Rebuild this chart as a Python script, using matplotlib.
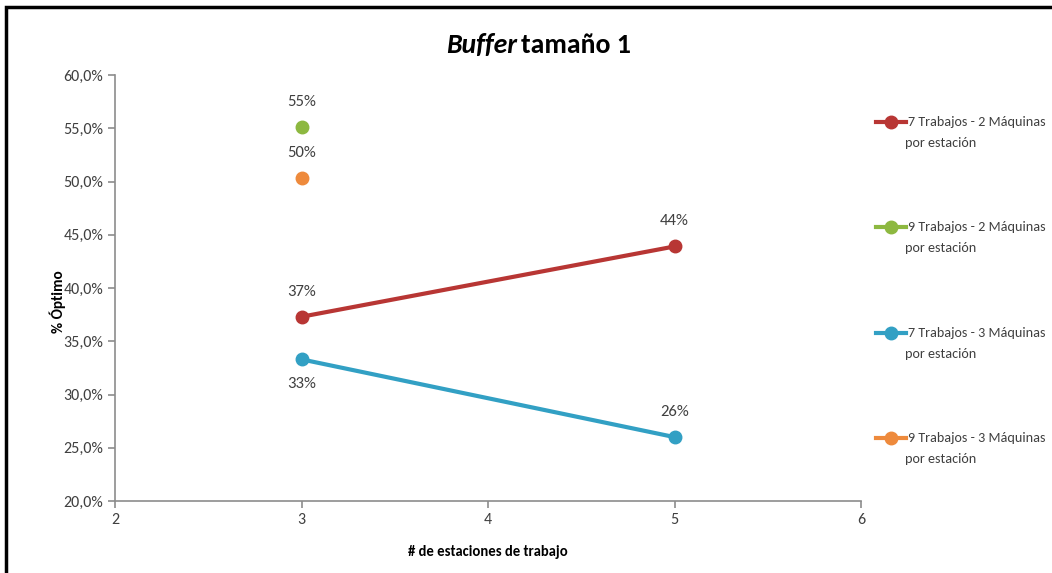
import matplotlib
matplotlib.use("Agg")
import matplotlib.pyplot as plt
from matplotlib.patches import Rectangle
from matplotlib.lines import Line2D
from matplotlib.ticker import FuncFormatter

plt.rcParams['font.family'] = ['Carlito', 'DejaVu Sans']

# data
estaciones = [3, 5]
red_vals = [37.3, 43.9]      # 7 Trabajos - 2 Maquinas
green_vals = [55.1]          # 9 Trabajos - 2 Maquinas
blue_vals = [33.3, 26.0]     # 7 Trabajos - 3 Maquinas
orange_vals = [50.3]         # 9 Trabajos - 3 Maquinas
red_labels = ["37%", "44%"]
green_labels = ["55%"]
blue_labels = ["33%", "26%"]
orange_labels = ["50%"]
series_names = ["7 Trabajos - 2 Máquinas\npor estación",
                "9 Trabajos - 2 Máquinas\npor estación",
                "7 Trabajos - 3 Máquinas\npor estación",
                "9 Trabajos - 3 Máquinas\npor estación"]

c_red = "#B83634"
c_green = "#8DB840"
c_blue = "#32A0C4"
c_orange = "#EE8A3C"
colors = [c_red, c_green, c_blue, c_orange]
txt = "#404040"

W, H = 1052, 573
fig = plt.figure(figsize=(W / 100, H / 100), dpi=100)
ax = fig.add_axes([115 / W, 1 - 501 / H, 746 / W, 426 / H])

ax.plot(estaciones, red_vals, color=c_red, lw=3, marker='o', ms=9)
ax.plot(estaciones[:1], green_vals, color=c_green, lw=3, marker='o', ms=9)
ax.plot(estaciones, blue_vals, color=c_blue, lw=3, marker='o', ms=9)
ax.plot(estaciones[:1], orange_vals, color=c_orange, lw=3, marker='o', ms=9)

def put_labels(xs, ys, labs, below=None):
    for i, (x, y, s) in enumerate(zip(xs, ys, labs)):
        dy = -25 if below == i else 25
        ax.annotate(s, (x, y), xytext=(0, dy), textcoords='offset pixels',
                    ha='center', va='center', fontsize=12, color=txt)

put_labels(estaciones, red_vals, red_labels)
put_labels(estaciones, green_vals, green_labels)
put_labels(estaciones, blue_vals, blue_labels, below=0)
put_labels(estaciones, orange_vals, orange_labels)

ax.set_xlim(2, 6)
ax.set_ylim(20, 60)
ax.set_xticks([2, 3, 4, 5, 6])
ax.set_yticks([20, 25, 30, 35, 40, 45, 50, 55, 60])
ax.yaxis.set_major_formatter(FuncFormatter(lambda v, p: f"{v:.1f}%".replace('.', ',')))
for s in ['top', 'right']:
    ax.spines[s].set_visible(False)
for s in ['left', 'bottom']:
    ax.spines[s].set_color('#8C8C8C')
    ax.spines[s].set_linewidth(1.2)
ax.tick_params(colors='#8C8C8C', labelcolor=txt, labelsize=11.5, length=5, width=1.2)

fig.text(58 / W, 1 - 302 / H, "% Óptimo", fontsize=11, fontweight='bold', color='black',
         rotation=90, ha='center', va='center')
fig.text(488 / W, 1 - 552 / H, "# de estaciones de trabajo", fontsize=10.5, fontweight='bold',
         color='black', ha='center', va='center')

fig.text(517 / W, 1 - 45 / H, "Buffer", style='italic', fontweight='bold', fontsize=20,
         ha='right', va='center', color='black')
fig.text(521 / W, 1 - 45 / H, "tamaño 1", fontweight='bold', fontsize=20,
         ha='left', va='center', color='black')

# legend drawn by hand: marker on first text line, second line below
for i, (name, col) in enumerate(zip(series_names, colors)):
    yy = 1 - (122 + i * 105.3) / H
    fig.add_artist(Line2D([876 / W, 906 / W], [yy, yy], color=col, lw=3,
                          transform=fig.transFigure))
    fig.add_artist(Line2D([891 / W], [yy], color=col, marker='o', ms=9,
                          transform=fig.transFigure))
    first, second = name.split("\n")
    fig.text(908 / W, yy, first, fontsize=10.2, color=txt, ha='left', va='center')
    fig.text(905 / W, yy - 21 / H, second, fontsize=10.2, color=txt, ha='left', va='center')

fig.patches.append(Rectangle((6 / W, -0.1), 2, 1 - 7 / H + 0.1, transform=fig.transFigure,
                             fill=False, edgecolor='black', lw=2.5, clip_on=False))

fig.savefig("out.png", dpi=100)
